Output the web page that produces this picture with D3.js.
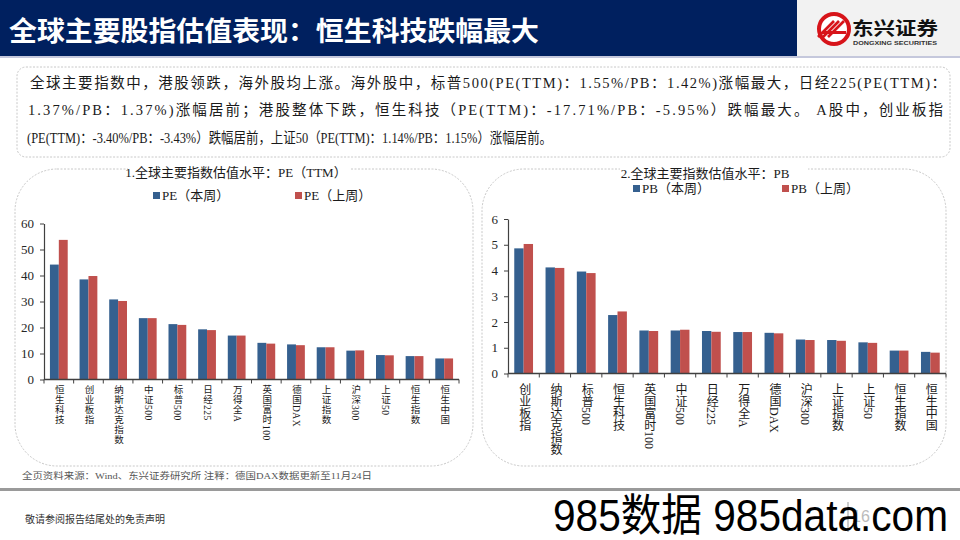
<!DOCTYPE html>
<html><head><meta charset="utf-8">
<script src="https://cdn.jsdelivr.net/npm/d3@7"></script>
<style>
html,body{margin:0;padding:0;background:#fff;}
svg{display:block;}
</style></head>
<body>
<script>
// ---------- data ----------
const peCategories = ["恒生科技","创业板指","纳斯达克指数","中证500","标普500","日经225","万得全A","英国富时100","德国DAX","上证指数","沪深300","上证50","恒生指数","恒生中国"];
const peThisWeek = [44.2,38.5,30.8,23.6,21.3,19.3,16.9,14.1,13.5,12.4,11.1,9.4,9.0,8.1];
const peLastWeek = [53.7,39.8,30.2,23.6,21.0,19.0,16.9,13.8,13.2,12.4,11.2,9.3,9.0,8.1];
const peTicks = [0,10,20,30,40,50,60];
const peSeriesNames = ["PE（本周）","PE（上周）"];

const pbCategories = ["创业板指","纳斯达克指数","标普500","恒生科技","英国富时100","中证500","日经225","万得全A","德国DAX","沪深300","上证指数","上证50","恒生指数","恒生中国"];
const pbThisWeek = [4.86,4.12,3.96,2.27,1.67,1.67,1.65,1.61,1.58,1.32,1.30,1.21,0.89,0.84];
const pbLastWeek = [5.03,4.10,3.90,2.41,1.65,1.70,1.62,1.61,1.56,1.30,1.27,1.19,0.89,0.81];
const pbTicks = [0,1,2,3,4,5,6];
const pbSeriesNames = ["PB（本周）","PB（上周）"];

const headerTitle = "全球主要股指估值表现：恒生科技跌幅最大";
const summaryLines = [
  "全球主要指数中，港股领跌，海外股均上涨。海外股中，标普500(PE(TTM)：1.55%/PB：1.42%)涨幅最大，日经225(PE(TTM)：",
  "1.37%/PB：1.37%)涨幅居前；港股整体下跌，恒生科技（PE(TTM)：-17.71%/PB：-5.95%）跌幅最大。 A股中，创业板指",
  "(PE(TTM)：-3.40%/PB：-3.43%）跌幅居前，上证50（PE(TTM)：1.14%/PB：1.15%）涨幅居前。"
];
const sourceNote = "全页资料来源：Wind、东兴证券研究所  注释：德国DAX数据更新至11月24日";
const disclaimer = "敬请参阅报告结尾处的免责声明";

// ---------- styles ----------
const BLUE = "#35608f", RED = "#c0504d", NAVY = "#00205f";
const SERIF = "'Liberation Serif','Noto Sans CJK SC',serif";
const SANS = "'Noto Sans CJK SC','Liberation Sans',sans-serif";

const svg = d3.select("body").append("svg").attr("width",960).attr("height",540);

// ---------- header ----------
svg.append("rect").attr("x",0).attr("y",0).attr("width",797).attr("height",56).attr("fill",NAVY);
svg.append("rect").attr("x",797).attr("y",0).attr("width",163).attr("height",56).attr("fill","#f2f2f2");
svg.append("rect").attr("x",0).attr("y",56).attr("width",960).attr("height",2).attr("fill","#c5c8dc");
svg.append("text").attr("x",9).attr("y",41).attr("fill","#fff")
  .attr("font-family",SANS).attr("font-weight","bold").attr("font-size",27)
  .attr("textLength",530).attr("lengthAdjust","spacingAndGlyphs").text(headerTitle);

// logo
const logo = svg.append("g").attr("transform","translate(834,29)");
logo.append("circle").attr("r",15).attr("fill","#fff").attr("stroke","#d7141a").attr("stroke-width",4);
[-6,-1,4].forEach(o=>{
  logo.append("path").attr("d",`M${-10+o},${8} L${6+o},${-8}`).attr("stroke","#d7141a").attr("stroke-width",2.6);
});
logo.append("rect").attr("x",-12).attr("y",2).attr("width",24).attr("height",3).attr("fill","#d7141a");
svg.append("text").attr("x",852).attr("y",35).attr("font-family",SANS).attr("font-weight","bold")
  .attr("font-size",18).attr("fill","#111").attr("textLength",86).attr("lengthAdjust","spacingAndGlyphs").text("东兴证券");
svg.append("text").attr("x",853).attr("y",45).attr("font-family","'Liberation Sans',sans-serif").attr("font-weight","bold")
  .attr("font-size",5).attr("fill","#333").attr("textLength",84).attr("lengthAdjust","spacingAndGlyphs").text("DONGXING SECURITIES");

// ---------- summary box ----------
svg.append("rect").attr("x",17).attr("y",67).attr("width",933).attr("height",90).attr("rx",9)
  .attr("fill","none").attr("stroke","#c8c8c8").attr("stroke-width",1).attr("stroke-dasharray","2,1.5");
const lineX = [30,28,27], lineLen = [916,915,525], lineY = [88,115,143];
const lineAdjust = ["spacing","spacing","spacingAndGlyphs"];
summaryLines.forEach((t,i)=>{
  svg.append("text").attr("x",lineX[i]).attr("y",lineY[i]).attr("font-family",SERIF).attr("font-size",14.5)
    .attr("fill","#1a1a1a").attr("textLength",lineLen[i]).attr("lengthAdjust",lineAdjust[i]).text(t);
});

// ---------- chart drawer ----------
function drawPanel(o){
  const g = svg.append("g");
  g.append("rect").attr("x",o.panel[0]).attr("y",o.panel[1]).attr("width",o.panel[2]).attr("height",o.panel[3])
    .attr("rx",42).attr("fill","none").attr("stroke","#c8c8c8").attr("stroke-width",1).attr("stroke-dasharray","2,1.5");
  g.append("rect").attr("x",o.titleGap[0]).attr("y",o.panel[1]-4).attr("width",o.titleGap[1]-o.titleGap[0]).attr("height",8).attr("fill","#fff");
  g.append("text").attr("x",o.titleX).attr("y",o.titleY).attr("text-anchor","middle").attr("font-family",SERIF)
    .attr("font-size",13).attr("fill","#1a1a1a").text(o.title);

  o.names.forEach((n,i)=>{
    const lx = o.legendX[i];
    g.append("rect").attr("x",lx).attr("y",o.legendY-4).attr("width",7).attr("height",7).attr("fill",i?RED:BLUE);
    g.append("text").attr("x",lx+9).attr("y",o.legendY+4).attr("font-family",SERIF).attr("font-size",13)
      .attr("fill","#1a1a1a").text(n);
  });

  const x0 = d3.scaleBand().domain(o.cats).range(o.xr).paddingInner(0.4).paddingOuter(0.2);
  const x1 = d3.scaleBand().domain([0,1]).range([0,x0.bandwidth()]);
  const y = d3.scaleLinear().domain([0,o.ticks[o.ticks.length-1]]).range(o.yr);

  const rows = o.cats.map((c,i)=>({c, v:[o.a[i],o.b[i]]}));
  const grp = g.selectAll("g.cat").data(rows).join("g").attr("transform",d=>`translate(${x0(d.c)},0)`);
  grp.selectAll("rect").data(d=>d.v.map((v,k)=>({v,k}))).join("rect")
    .attr("x",d=>x1(d.k)).attr("width",x1.bandwidth())
    .attr("y",d=>y(d.v)).attr("height",d=>y(0)-y(d.v))
    .attr("fill",d=>d.k?RED:BLUE);

  const ya = g.append("g").attr("transform",`translate(${o.xr[0]},0)`)
    .call(d3.axisLeft(y).tickValues(o.ticks).tickSize(4).tickSizeOuter(0).tickPadding(6).tickFormat(d3.format("d")));
  ya.select(".domain").attr("stroke","#404040").attr("stroke-width",1.2);
  ya.selectAll(".tick line").attr("stroke","#404040");
  ya.selectAll(".tick text").attr("font-family",SERIF).attr("font-size",13).attr("fill","#262626");

  const y0 = y(0);
  g.append("line").attr("x1",o.xr[0]).attr("x2",o.xr[1]).attr("y1",y0).attr("y2",y0)
    .attr("stroke","#404040").attr("stroke-width",1.6);
  d3.range(o.cats.length+1).forEach(i=>{
    const tx = o.xr[0] + i*x0.step();
    g.append("line").attr("x1",tx).attr("x2",tx).attr("y1",y0).attr("y2",y0+4).attr("stroke","#404040").attr("stroke-width",1);
  });
  g.selectAll("text.xl").data(o.cats).join("text").attr("class","xl")
    .attr("x",d=>x0(d)+x0.bandwidth()/2).attr("y",o.labelY)
    .attr("style","writing-mode:vertical-rl;text-orientation:mixed")
    .attr("font-family",SERIF).attr("font-size",o.labelSize).attr("fill","#1a1a1a")
    .attr("letter-spacing",o.labelSpacing)
    .text(d=>d);
}

drawPanel({
  panel:[15,169,458,297], titleGap:[128,351], title:"1.全球主要指数估值水平：PE（TTM）", titleX:236, titleY:177,
  names:peSeriesNames, legendX:[153,295], legendY:196,
  cats:peCategories, a:peThisWeek, b:peLastWeek, ticks:peTicks,
  xr:[44,459], yr:[379.5,223.5], labelY:385, labelSize:9.5, labelSpacing:0.5
});
drawPanel({
  panel:[482,169,464,297], titleGap:[620,808], title:"2.全球主要指数估值水平：PB", titleX:705, titleY:178,
  names:pbSeriesNames, legendX:[633,782], legendY:189,
  cats:pbCategories, a:pbThisWeek, b:pbLastWeek, ticks:pbTicks,
  xr:[508,946], yr:[373.5,219], labelY:383, labelSize:12, labelSpacing:0
});

// ---------- footer ----------
svg.append("text").attr("x",22).attr("y",479).attr("font-family",SERIF).attr("font-size",9)
  .attr("fill","#555").attr("textLength",350).attr("lengthAdjust","spacingAndGlyphs").text(sourceNote);
svg.append("rect").attr("x",0).attr("y",488).attr("width",960).attr("height",3).attr("fill","#9a9a9a");
svg.append("text").attr("x",25).attr("y",523).attr("font-family",SERIF).attr("font-size",10)
  .attr("fill","#333").text(disclaimer);
svg.append("line").attr("x1",848).attr("x2",848).attr("y1",502).attr("y2",532).attr("stroke","#999").attr("stroke-width",1);
svg.append("text").attr("x",852).attr("y",522).attr("font-family","'Liberation Sans',sans-serif").attr("font-size",16)
  .attr("fill","#bbb").text("16");
svg.append("text").attr("x",553).attr("y",531).attr("font-family","'Liberation Sans Narrow','Liberation Sans','Noto Sans CJK SC',sans-serif")
  .attr("font-size",44).attr("fill","#000").attr("textLength",395).attr("lengthAdjust","spacingAndGlyphs").text("985数据 985data.com");
</script>
</body></html>
